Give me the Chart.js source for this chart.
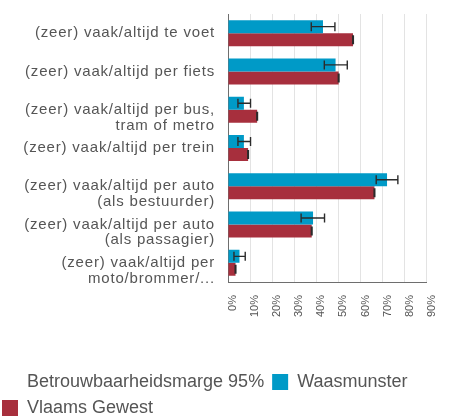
<!DOCTYPE html>
<html lang="nl">
<head>
    <meta charset="UTF-8">
    <title>Vervoerswijze</title>
    <script src="https://cdn.jsdelivr.net/npm/chart.js"></script>
    <style>
        html, body { margin: 0; padding: 0; background: #fff; overflow: hidden; }
        #chart { display: block; margin-left: -6px; }
    </style>
</head>
<body>
    <canvas id="chart" width="459" height="427"></canvas>

    <script>
        // categories (multi-line labels as arrays)
        const categories = [
            "(zeer) vaak/altijd te voet",
            "(zeer) vaak/altijd per fiets",
            ["(zeer) vaak/altijd per bus,", "tram of metro"],
            "(zeer) vaak/altijd per trein",
            ["(zeer) vaak/altijd per auto", "(als bestuurder)"],
            ["(zeer) vaak/altijd per auto", "(als passagier)"],
            ["(zeer) vaak/altijd per", "moto/brommer/..."]
        ];

        // Waasmunster (%) with 95% margin
        const waasmunster     = [43.0, 48.7, 7.2, 7.2, 72.0, 38.5, 5.2];
        const waasmunsterLow  = [37.7, 43.6, 4.5, 4.5, 67.1, 33.1, 2.7];
        const waasmunsterHigh = [48.4, 54.0, 10.2, 10.2, 76.9, 43.7, 7.8];

        // Vlaams Gewest (%) with 95% margin
        const vlaams     = [56.6, 50.1, 13.2, 9.1, 66.3, 37.9, 3.4];
        const vlaamsLow  = [56.4, 49.9, 13.0, 8.9, 66.1, 37.7, 3.2];
        const vlaamsHigh = [56.8, 50.3, 13.4, 9.3, 66.5, 38.1, 3.6];

        // x axis ticks
        const xTicks = [0, 10, 20, 30, 40, 50, 60, 70, 80, 90];

        const marginLabel = "Betrouwbaarheidsmarge 95%";

        // draws the whiskers on top of the bars, using the x scale
        const errorBars = {
            id: "errorBars",
            afterDatasetsDraw(chart) {
                const ctx = chart.ctx;
                const xScale = chart.scales.x;
                ctx.save();
                ctx.strokeStyle = "#2b2b2b";
                chart.data.datasets.forEach((ds, i) => {
                    const meta = chart.getDatasetMeta(i);
                    ctx.lineWidth = ds.errWidth;
                    meta.data.forEach((bar, j) => {
                        const x1 = xScale.getPixelForValue(ds.errLow[j]);
                        const x2 = xScale.getPixelForValue(ds.errHigh[j]);
                        const y = bar.y;
                        const h = 4.5;
                        ctx.beginPath();
                        ctx.moveTo(x1, y); ctx.lineTo(x2, y);
                        ctx.moveTo(x1, y - h); ctx.lineTo(x1, y + h);
                        ctx.moveTo(x2, y - h); ctx.lineTo(x2, y + h);
                        ctx.stroke();
                    });
                });
                ctx.restore();
                // y labels (z:1) are drawn after this, a bit wider
                ctx.letterSpacing = "0.8px";
            },
            afterDraw(chart) {
                chart.ctx.letterSpacing = "0px";
            }
        };

        const ctx = document.getElementById("chart").getContext("2d");

        new Chart(ctx, {
            type: "bar",
            data: {
                labels: categories,
                datasets: [
                    {
                        label: "Waasmunster",
                        data: waasmunster,
                        errLow: waasmunsterLow,
                        errHigh: waasmunsterHigh,
                        errWidth: 1.4,
                        backgroundColor: "#009ac7",
                        borderWidth: 0
                    },
                    {
                        label: "Vlaams Gewest",
                        data: vlaams,
                        errLow: vlaamsLow,
                        errHigh: vlaamsHigh,
                        errWidth: 1.2,
                        backgroundColor: "#a72f3d",
                        borderWidth: 0
                    }
                ]
            },
            options: {
                indexAxis: "y",
                responsive: false,
                animation: false,
                devicePixelRatio: 1,
                categoryPercentage: 0.68,
                barPercentage: 1.0,
                layout: { padding: { top: 14, right: 24, left: 0, bottom: 0 } },
                scales: {
                    x: {
                        min: 0,
                        max: 90,
                        afterBuildTicks: scale => {
                            scale.ticks = xTicks.map(v => ({ value: v }));
                        },
                        afterFit: scale => { scale.height = 83; },
                        grid: { color: "#e3e3e3", drawTicks: false },
                        border: { color: "#6e6e6e", width: 1 },
                        ticks: {
                            autoSkip: false,
                            minRotation: 90,
                            maxRotation: 90,
                            padding: 13,
                            labelOffset: 5,
                            color: "#555",
                            font: { family: "Liberation Sans, Arial", size: 11 },
                            callback: v => v + "%"
                        }
                    },
                    y: {
                        afterFit: scale => {
                            scale.width = 234;
                            scale.paddingTop = 0;
                            scale.paddingBottom = 0;
                        },
                        grid: { display: false, drawTicks: false },
                        border: { color: "#6e6e6e", width: 1 },
                        ticks: {
                            z: 1,
                            autoSkip: false,
                            padding: 13,
                            color: "#555",
                            font: { family: "Liberation Sans, Arial", size: 15, lineHeight: 1.05 },
                            // first line sits on the category centre
                            callback: function (value) {
                                const lbl = this.getLabelForValue(value);
                                return Array.isArray(lbl) ? [""].concat(lbl) : lbl;
                            }
                        }
                    }
                },
                plugins: {
                    tooltip: { enabled: false },
                    legend: {
                        position: "bottom",
                        align: "start",
                        labels: {
                            boxWidth: 16,
                            boxHeight: 16,
                            padding: 8,
                            color: "#555",
                            font: { family: "Liberation Sans, Arial", size: 18 },
                            generateLabels: chart => {
                                const items = Chart.defaults.plugins.legend.labels.generateLabels(chart);
                                items.unshift({
                                    text: marginLabel,
                                    fillStyle: "rgba(0,0,0,0)",
                                    strokeStyle: "rgba(0,0,0,0)",
                                    fontColor: "#555",
                                    lineWidth: 0,
                                    hidden: false,
                                    datasetIndex: -1
                                });
                                return items;
                            }
                        }
                    }
                }
            },
            plugins: [errorBars]
        });
    </script>
</body>
</html>
